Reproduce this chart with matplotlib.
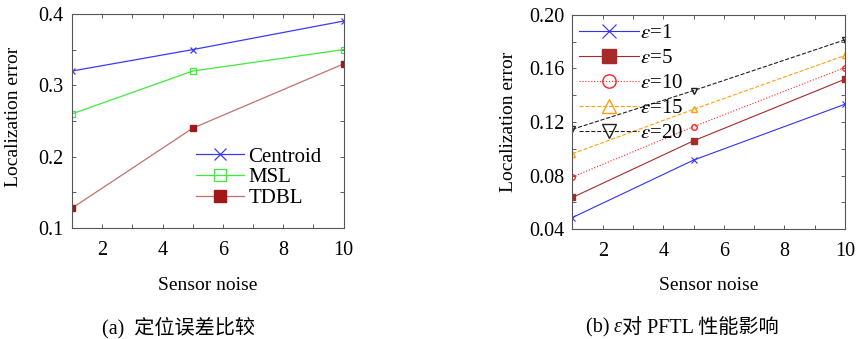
import matplotlib
matplotlib.use("Agg")
import matplotlib.pyplot as plt
from matplotlib.ticker import MultipleLocator, FuncFormatter

plt.rcParams['font.family'] = ['Liberation Serif', 'Noto Sans CJK SC']
plt.rcParams['mathtext.fontset'] = 'stix'

# (a) comparison of localization error
noise = [1, 5, 10]
centroid = [0.32, 0.35, 0.39]
msl = [0.26, 0.32, 0.35]
tdbl = [0.128, 0.24, 0.33]

# (b) effect of epsilon on PFTL
eps1 = [0.0487, 0.0916, 0.1333]
eps5 = [0.0637, 0.1060, 0.1520]
eps10 = [0.0790, 0.1166, 0.1607]
eps15 = [0.0964, 0.1295, 0.1697]
eps20 = [0.1146, 0.1435, 0.1814]

fig = plt.figure(figsize=(8.57, 3.39), dpi=100)
axA = fig.add_axes([0.084, 0.327, 0.317, 0.632])
axB = fig.add_axes([0.668, 0.324, 0.318, 0.632])

lw = 0.9
axA.plot(noise, centroid, color='#3a3aff', lw=lw, marker='x', ms=4, mew=0.9, label='Centroid')
axA.plot(noise, msl, color='#40e840', lw=lw, marker='s', ms=4, mfc='none', mew=0.9, label='MSL')
axA.plot(noise, tdbl, color='#c07070', lw=lw, marker='s', ms=4, mfc='#a01818', mec='#a01818', label='TDBL')

axA.set_xlim(1, 10)
axA.set_ylim(0.1, 0.4)
axA.xaxis.set_major_locator(MultipleLocator(1))
axA.yaxis.set_major_locator(MultipleLocator(0.05))
axA.xaxis.set_major_formatter(FuncFormatter(lambda v, p: '%d' % v if round(v) % 2 == 0 else ''))
axA.yaxis.set_major_formatter(FuncFormatter(lambda v, p: '%.1f' % v if abs(v * 10 - round(v * 10)) < 1e-6 else ''))
axA.legend(loc='lower right', frameon=False, fontsize=15, handlelength=2.3, markerscale=2.3,
           borderaxespad=0.0, labelspacing=0.05, handletextpad=0.2, bbox_to_anchor=(0.95, 0.056))
axA.set_xlabel('Sensor noise', fontsize=14)
axA.set_ylabel('Localization error', fontsize=14)
axA.xaxis.set_label_coords(0.5, -0.229)
axA.yaxis.set_label_coords(-0.184, 0.52)

st = dict(lw=0.8)
axB.plot(noise, eps1, color='#3030ff', ls='-', marker='x', ms=4, mew=0.8, label=r'$\varepsilon$=1', **st)
axB.plot(noise, eps5, color='#a52a2a', ls='-', marker='s', ms=4, label=r'$\varepsilon$=5', **st)
axB.plot(noise, eps10, color='#ff2020', ls=':', marker='o', ms=4, mfc='none', label=r'$\varepsilon$=10', **st)
axB.plot(noise, eps15, color='#ffa010', ls='--', marker='^', ms=4, mfc='none', label=r'$\varepsilon$=15', **st)
axB.plot(noise, eps20, color='#202020', ls='--', marker='v', ms=4, mfc='none', label=r'$\varepsilon$=20', **st)

axB.set_xlim(1, 10)
axB.set_ylim(0.04, 0.20)
axB.xaxis.set_major_locator(MultipleLocator(1))
axB.yaxis.set_major_locator(MultipleLocator(0.02))
axB.xaxis.set_major_formatter(FuncFormatter(lambda v, p: '%d' % v if round(v) % 2 == 0 else ''))
axB.yaxis.set_major_formatter(FuncFormatter(lambda v, p: '%.2f' % v if round(v * 100) % 4 == 0 else ''))
axB.legend(loc='upper left', frameon=False, fontsize=15, handlelength=2.9, markerscale=2.4,
           borderaxespad=0.0, labelspacing=0.26, handletextpad=0.05, bbox_to_anchor=(-0.008, 0.997))
axB.set_xlabel('Sensor noise', fontsize=14)
axB.set_ylabel('Localization error', fontsize=14)
axB.xaxis.set_label_coords(0.5, -0.224)
axB.yaxis.set_label_coords(-0.202, 0.5)

for ax in (axA, axB):
    ax.tick_params(direction='in', top=True, right=True, labelsize=14.5, length=3, width=0.6,
                   colors='#444444', labelcolor='black')
    ax.tick_params(axis='x', pad=9)
    ax.tick_params(axis='y', pad=6)
    for s in ax.spines.values():
        s.set_color('#555555')
        s.set_linewidth(0.8)


def caption(xc, yc, pieces, size):
    # draw text pieces side by side, centred on xc (pixels)
    renderer = fig.canvas.get_renderer()
    objs = []
    for txt, kw in pieces:
        t = fig.text(0, 0, txt, fontsize=size, va='center', ha='left', transform=None, **kw)
        objs.append(t)
    widths = [t.get_window_extent(renderer).width for t in objs]
    x = xc - sum(widths) / 2
    H = fig.bbox.height
    for t, w in zip(objs, widths):
        t.set_position((x, H - yc))
        x += w


caption(179, 328, [('(a)  定位误差比较', {})], 14.5)
caption(682, 328, [('(b) ', {}), ('ε', {'style': 'italic'}), ('对 PFTL 性能影响', {})], 14.5)

fig.savefig('out.png', dpi=100)
